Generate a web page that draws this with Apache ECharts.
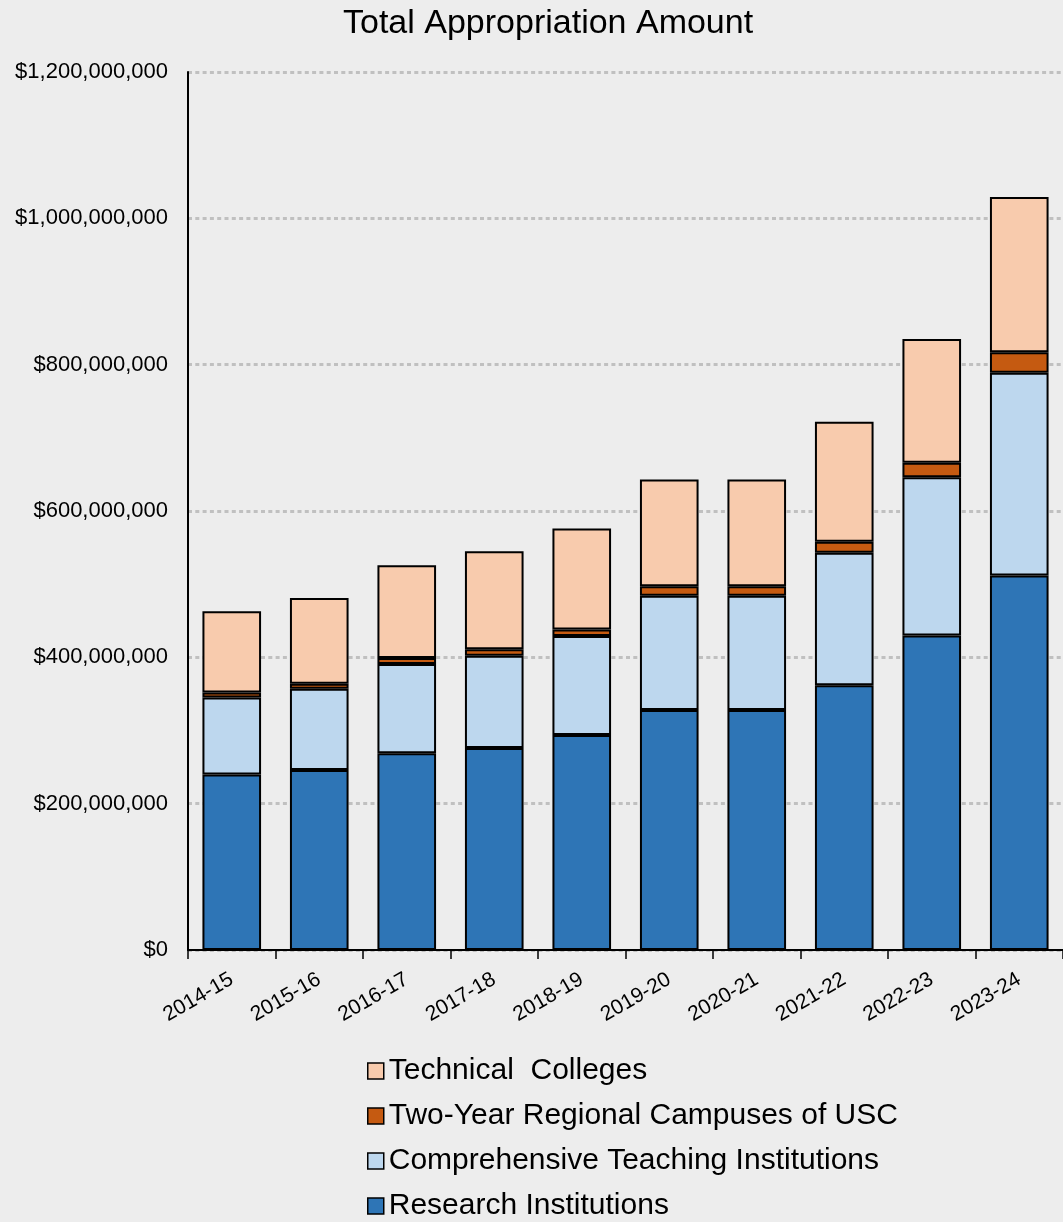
<!DOCTYPE html>
<html>
<head>
<meta charset="utf-8">
<script src="https://cdn.jsdelivr.net/npm/echarts@6/dist/echarts.min.js"></script>
<style>
html,body{margin:0;padding:0;background:#ededed;}
#chart{width:1063px;height:1222px;}
</style>
</head>
<body>
<div id="chart"></div>
<script>
const categories = ['2014-15','2015-16','2016-17','2017-18','2018-19','2019-20','2020-21','2021-22','2022-23','2023-24'];
const research = [240e6, 246e6, 269e6, 276e6, 294e6, 328e6, 328e6, 362e6, 430e6, 512e6];
const comprehensive = [105e6, 111e6, 122e6, 126e6, 135e6, 156e6, 156e6, 181e6, 216e6, 277e6];
const twoYear = [7e6, 7e6, 8e6, 9e6, 9e6, 13e6, 13e6, 15e6, 20e6, 28e6];
const technical = [111e6, 117e6, 127e6, 134e6, 138e6, 146e6, 146e6, 164e6, 169e6, 212e6];
const seriesNames = ['Research Institutions','Comprehensive Teaching Institutions','Two-Year Regional Campuses of USC','Technical  Colleges'];
const legendOrder = ['Technical  Colleges','Two-Year Regional Campuses of USC','Comprehensive Teaching Institutions','Research Institutions'];
const colors = ['#2e75b6','#bdd7ee','#c55a11','#f8cbad'];

function money(v){
  const s = String(Math.round(v));
  return '$' + s.replace(/\B(?=(\d{3})+(?!\d))/g, ',');
}

const font = "'Liberation Sans', Arial, sans-serif";
const chart = echarts.init(document.getElementById('chart'));
const dataSets = [research, comprehensive, twoYear, technical];
chart.setOption({
  backgroundColor: '#ededed',
  animation: false,
  textStyle: {fontFamily: font, color: '#000'},
  title: {
    text: 'Total Appropriation Amount',
    left: 338, top: 2,
    textStyle: {fontFamily: font, fontSize: 34, fontWeight: 'normal', color: '#000'}
  },
  legend: {
    orient: 'vertical',
    left: 367, top: 1056,
    padding: 0,
    height: 170,
    icon: 'rect',
    itemWidth: 16, itemHeight: 16,
    itemGap: 15,
    data: legendOrder,
    itemStyle: {borderColor: '#000', borderWidth: 1.5},
    textStyle: {fontFamily: font, fontSize: 30, color: '#000'}
  },
  grid: {left: 188, top: 72, width: 882, bottom: 272, containLabel: false},
  xAxis: {
    type: 'category',
    data: categories,
    axisLine: {lineStyle: {color: '#000', width: 2}},
    axisTick: {show: true, length: 9, lineStyle: {color: '#000', width: 1.5}},
    axisLabel: {rotate: 30, fontSize: 21, color: '#000', margin: 28, fontFamily: font, interval: 0}
  },
  yAxis: {
    type: 'value',
    min: 0, max: 1200000000, interval: 200000000,
    axisLine: {show: true, lineStyle: {color: '#000', width: 2}},
    axisTick: {show: false},
    axisLabel: {fontSize: 22, color: '#000', margin: 20, fontFamily: font, formatter: money},
    splitLine: {lineStyle: {color: '#c0c0c0', width: 3, type: [4, 3.3]}}
  },
  series: seriesNames.map((n, i) => ({
    name: n,
    type: 'bar',
    stack: 'total',
    barWidth: '67%',
    data: dataSets[i],
    itemStyle: {color: colors[i], borderColor: '#000', borderWidth: 2}
  }))
});
</script>
</body>
</html>
